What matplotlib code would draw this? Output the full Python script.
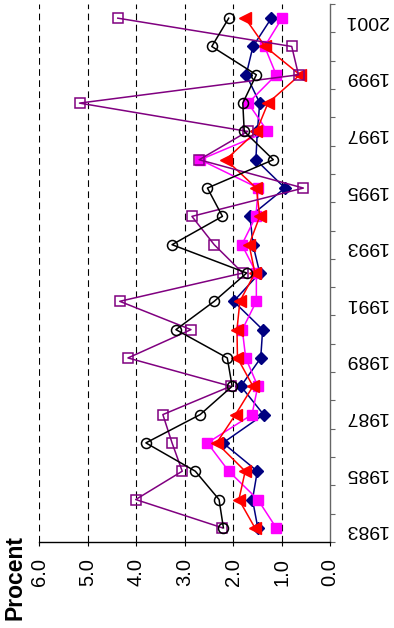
import matplotlib
matplotlib.use("Agg")
import matplotlib.pyplot as plt
from matplotlib.ticker import FixedLocator

plt.rcParams['font.family'] = ['Liberation Sans', 'DejaVu Sans']

years = list(range(1983, 2002))
black_circle = [2.20, 2.29, 2.78, 3.80, 2.68, 2.02, 2.12, 3.18, 2.39, 1.72, 3.26, 2.22, 2.53, 1.17, 1.77, 1.80, 1.52, 2.44, 2.09]
purple_square = [2.22, 4.01, 3.05, 3.26, 3.45, 2.05, 4.17, 2.87, 4.34, 1.80, 2.39, 2.85, 0.55, 2.70, 1.70, 5.17, 0.65, 0.79, 4.38]
navy_diamond = [1.49, 1.60, 1.50, 2.21, 1.37, 1.84, 1.43, 1.39, 1.99, 1.45, 1.59, 1.65, 0.93, 1.53, 1.50, 1.45, 1.73, 1.59, 1.21]
red_triangle = [1.55, 1.88, 1.75, 2.34, 1.95, 1.59, 1.91, 1.92, 1.86, 1.55, 1.67, 1.45, 1.52, 2.15, 1.52, 1.28, 0.62, 1.34, 1.75]
magenta_square = [1.11, 1.49, 2.09, 2.53, 1.61, 1.49, 1.74, 1.81, 1.52, 1.52, 1.82, 1.53, 1.48, 2.68, 1.29, 1.69, 1.11, 1.35, 0.99]

value_ticks = [0, 1, 2, 3, 4, 5, 6]
value_labels = ["0.0", "1.0", "2.0", "3.0", "4.0", "5.0", "6.0"]
year_labels = [str(y) for y in range(1983, 2002, 2)]
axis_title = "Procent"

fig = plt.figure(figsize=(3.94, 6.28), dpi=100)
ax = fig.add_axes([39.3/394, 1-542/628, (330-39.3)/394, (542-4)/628])

lw = 1.1
ax.plot(navy_diamond, years, color='#000080', lw=lw, marker='D', ms=6.2,
        mfc='#000080', mec='#000080', zorder=3)
ax.plot(magenta_square, years, color='#FF00FF', lw=lw, marker='s', ms=7.8,
        mfc='#FF00FF', mec='#FF00FF', zorder=4)
ax.plot(red_triangle, years, color='#FF0000', lw=lw, marker='<', ms=9,
        mfc='#FF0000', mec='#FF0000', zorder=5)
ax.plot(purple_square, years, color='#800080', lw=lw, marker='s', ms=7.6,
        mfc='none', mec='#800080', mew=1.1, zorder=6)
ax.plot(black_circle, years, color='black', lw=lw, marker='o', ms=7.2,
        mfc='none', mec='black', mew=1.1, zorder=7)

ax.set_xlim(6, 0)
ax.set_ylim(1982.5, 2001.5)

ax.set_xticks(value_ticks)
ax.set_xticklabels(value_labels, rotation=90, fontsize=14.5)
ax.tick_params(axis='x', direction='out', length=3, width=0.8, pad=8.5, color='black')

ax.yaxis.tick_right()
ax.set_yticks(list(range(1983, 2002, 2)))
ax.set_yticklabels(year_labels, rotation=180, fontsize=14)
ax.tick_params(axis='y', which='major', length=0, pad=10.5)
ax.yaxis.set_minor_locator(FixedLocator([y - 0.5 for y in years] + [years[-1] + 0.5]))
ax.tick_params(axis='y', which='minor', direction='out', length=3.5, width=0.8, color='#666666')

ax.grid(axis='x', color='black', lw=0.8, ls=(0, (6, 4)))
ax.set_axisbelow(True)
for line, t in zip(ax.get_xgridlines(), ax.get_xticks()):
    if t == 0:
        line.set_visible(False)

ax.spines['top'].set_visible(False)
ax.spines['left'].set_visible(False)
ax.spines['right'].set_color('#666666')
ax.spines['right'].set_linewidth(1.0)
ax.spines['bottom'].set_color('black')
ax.spines['bottom'].set_linewidth(1.0)

fig.text(15/394, 1-577/628, axis_title, rotation=90, ha='center', va='center',
         fontsize=16.5, fontweight='bold')

fig.savefig('out.png', dpi=100)
